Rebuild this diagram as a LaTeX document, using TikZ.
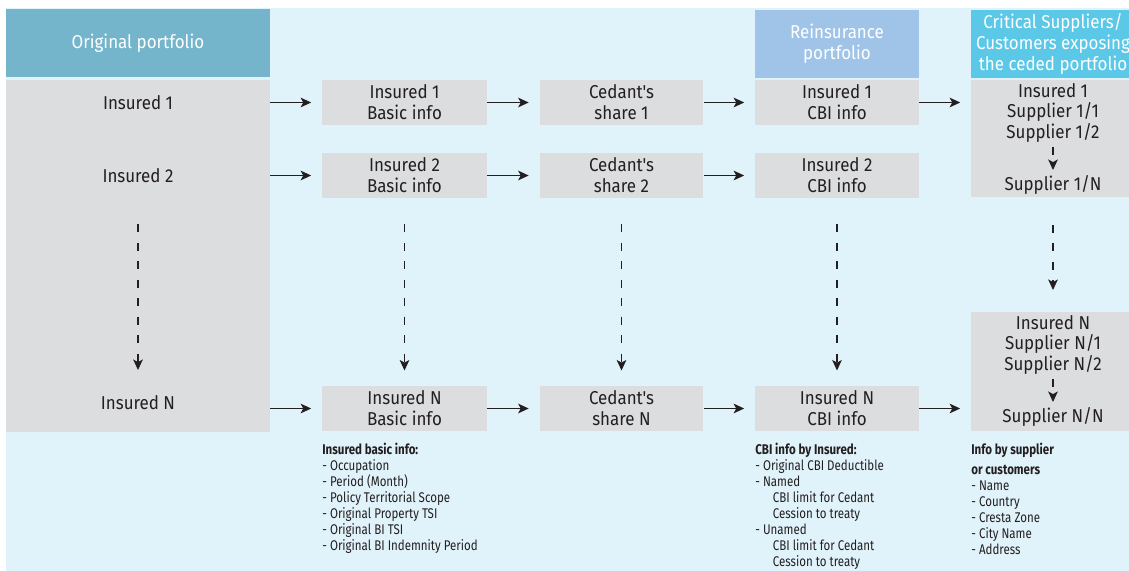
\documentclass[tikz,border=0pt]{standalone}
\usepackage{fontspec}
\setmainfont[FakeStretch=0.91,Ligatures=TeXOff]{Fira Sans}
\newfontfamily\narrowfont[FakeStretch=0.82]{Fira Sans}
\usetikzlibrary{positioning,arrows.meta,calc}
\definecolor{bgblue}{RGB}{224,242,250}
\definecolor{boxgrey}{RGB}{220,221,223}
\definecolor{origblue}{RGB}{116,181,204}
\definecolor{reblue}{RGB}{160,196,232}
\definecolor{critblue}{RGB}{92,200,232}
\definecolor{inkgrey}{RGB}{35,31,32}

\begin{document}
\begin{tikzpicture}[x=0.02cm,y=-0.02cm,
  every node/.style={font=\fontsize{10.6}{12}\selectfont, text=inkgrey},
  headbox/.style={minimum width=3.28cm, minimum height=1.36cm, inner sep=0pt, align=center, text=white},
  infobox/.style={fill=boxgrey, minimum width=3.28cm, minimum height=0.92cm, inner sep=0pt, align=center},
  flow/.style={draw=inkgrey, line width=0.6pt, -{Stealth[length=6pt,width=5.5pt,inset=1.5pt]}, shorten >=0.21cm},
  dashflow/.style={draw=inkgrey, line width=0.6pt, -{Stealth[length=6pt,width=5.5pt,inset=1.5pt]}, dash pattern=on 4.5pt off 6pt},
  listtext/.style={anchor=north west, align=left, inner sep=0pt, font=\narrowfont\fontsize{8}{9.1}\selectfont}]
\useasboundingbox (0,0) rectangle (1129,571);
\clip (0,0) rectangle (1129,571);
\fill[bgblue] (6,8) rectangle (1129,571);

\node[headbox, fill=origblue, minimum width=5.28cm] (hOrig) at (138,43) {Original portfolio};
\node[headbox, fill=reblue] (hRe) at (837,44) {Reinsurance\\portfolio};
\node[headbox, fill=critblue] (hCrit) at (1053,44) {Critical Suppliers/\\Customers exposing\\the ceded portfolio};

\node[infobox, minimum width=5.28cm, minimum height=7.04cm] (orig) at (138,256) {};
\node (ins1) at (138,102.5) {Insured 1};
\node (ins2) at (138,175.5) {Insured 2};
\node (insN) at (138,403) {Insured N};

\node[infobox, minimum width=3.3cm] (basic1) at (404.5,102.5) {Insured 1\\Basic info};
\node[infobox, minimum width=3.3cm] (basic2) at (404.5,175.5) {Insured 2\\Basic info};
\node[infobox, minimum width=3.3cm] (basicN) at (404.5,408.5) {Insured N\\Basic info};
\node[infobox] (share1) at (621.5,102.5) {Cedant's\\share 1};
\node[infobox] (share2) at (621.5,175.5) {Cedant's\\share 2};
\node[infobox] (shareN) at (621.5,408.5) {Cedant's\\share N};
\node[infobox] (cbi1) at (837,102.5) {Insured 1\\CBI info};
\node[infobox] (cbi2) at (837,175.5) {Insured 2\\CBI info};
\node[infobox] (cbiN) at (837,408.5) {Insured N\\CBI info};

\node[infobox, minimum height=2.34cm] (sup1) at (1053,138.5) {};
\node (s1a) at (1053,91) {Insured 1};
\node (s1b) at (1053,112) {Supplier 1/1};
\node (s1c) at (1053,133) {Supplier 1/2};
\node (s1n) at (1053,185) {Supplier 1/N};
\node[infobox, minimum height=2.38cm] (supN) at (1053,371.5) {};
\node (sNa) at (1053,323) {Insured N};
\node (sNb) at (1053,344) {Supplier N/1};
\node (sNc) at (1053,365) {Supplier N/2};
\node (sNn) at (1053,417) {Supplier N/N};

\draw[flow] (basic1 -| orig.east) -- (basic1);
\draw[flow] (basic2 -| orig.east) -- (basic2);
\draw[flow] (basicN -| orig.east) -- (basicN);
\draw[flow] (basic1) -- (share1);
\draw[flow] (basic2) -- (share2);
\draw[flow] (basicN) -- (shareN);
\draw[flow] (share1) -- (cbi1);
\draw[flow] (share2) -- (cbi2);
\draw[flow] (shareN) -- (cbiN);
\draw[flow] (cbi1) -- (cbi1 -| sup1.west);
\draw[flow] (cbiN) -- (cbiN -| supN.west);

\draw[dashflow, shorten <=0.98cm, shorten >=0.66cm] (ins2.center) -- (insN.center);
\draw[dashflow, shorten <=0.98cm, shorten >=0.76cm] (basic2.center) -- (basicN.center);
\draw[dashflow, shorten <=0.98cm, shorten >=0.76cm] (share2.center) -- (shareN.center);
\draw[dashflow, shorten <=0.98cm, shorten >=0.76cm] (cbi2.center) -- (cbiN.center);
\draw[dashflow, shorten <=0.8cm, shorten >=0.66cm] (s1n.center) -- (sNa.center);
\draw[dashflow, shorten <=0.28cm, shorten >=0.3cm] (s1c.center) -- (s1n.center);
\draw[dashflow, shorten <=0.28cm, shorten >=0.3cm] (sNc.center) -- (sNn.center);

\node[listtext] (basicinfo) at (322,443) {\textbf{Insured basic info:}\\- Occupation\\- Period (Month)\\- Policy Territorial Scope\\- Original Property TSI\\- Original BI TSI\\- Original BI Indemnity Period};
\node[listtext] (cbiinfo) at (755,443) {\textbf{CBI info by Insured:}\\- Original CBI Deductible\\- Named\\\hspace*{10pt}CBI limit for Cedant\\\hspace*{10pt}Cession to treaty\\- Unamed\\\hspace*{10pt}CBI limit for Cedant\\\hspace*{10pt}Cession to treaty};
\node[listtext] (supinfo) at (971,443) {\textbf{Info by supplier}\\[2.3pt]\textbf{or customers}\\- Name\\- Country\\- Cresta Zone\\- City Name\\- Address};
\end{tikzpicture}
\end{document}
